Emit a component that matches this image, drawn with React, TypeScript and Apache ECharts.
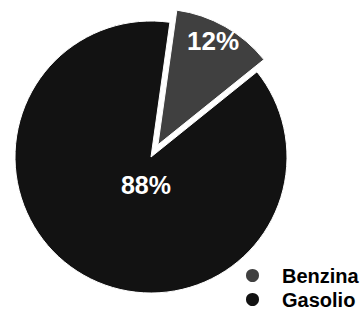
import React, { useEffect, useRef } from "react";
import * as echarts from "echarts";

const categories = ["Benzina", "Gasolio"];
const values = [12, 88];
const colors = ["#404040", "#121212"];
const labelShifts = [
  [20, -42],
  [30, -34],
];

export default function App() {
  const ref = useRef<HTMLDivElement>(null);
  useEffect(() => {
    if (!ref.current) return;
    const chart = echarts.init(ref.current, null, { renderer: "svg" });
    const data = categories.map((name, i) => ({
      name,
      value: values[i],
      selected: i === 0,
      itemStyle: { color: colors[i] },
      label: { fontSize: i === 0 ? 26 : 25 },
    }));
    chart.setOption({
      animation: false,
      legend: {
        orient: "vertical",
        left: 239,
        top: 260,
        height: 60,
        padding: 5,
        itemWidth: 15,
        itemHeight: 15,
        itemGap: 3,
        icon: "circle",
        data: categories,
        selectedMode: false,
        textStyle: {
          fontFamily: "Liberation Sans, Arial, sans-serif",
          fontWeight: "bold",
          fontSize: 20,
          lineHeight: 21,
          color: "#000",
          padding: [0, 0, 0, 17],
        },
      },
      series: [
        {
          type: "pie",
          center: [151, 157],
          radius: 136,
          startAngle: 82,
          clockwise: true,
          selectedMode: "single",
          selectedOffset: 14,
          silent: true,
          emphasis: { disabled: true },
          select: { itemStyle: { borderColor: "#fff", borderWidth: 1 } },
          itemStyle: { borderColor: "#fff", borderWidth: 1 },
          label: {
            show: true,
            position: "inside",
            formatter: "{d}%",
            color: "#fff",
            fontWeight: "bold",
            fontFamily: "Liberation Sans, Arial, sans-serif",
          },
          labelLine: { show: false },
          labelLayout: (params: any) => {
            const s = labelShifts[params.dataIndex] || [0, 0];
            return { dx: s[0], dy: s[1] };
          },
          data,
        },
      ],
    });
    return () => chart.dispose();
  }, []);
  return (
    <div
      ref={ref}
      style={{ position: "fixed", left: 0, top: 0, width: 360, height: 312, background: "#fff" }}
    />
  );
}
